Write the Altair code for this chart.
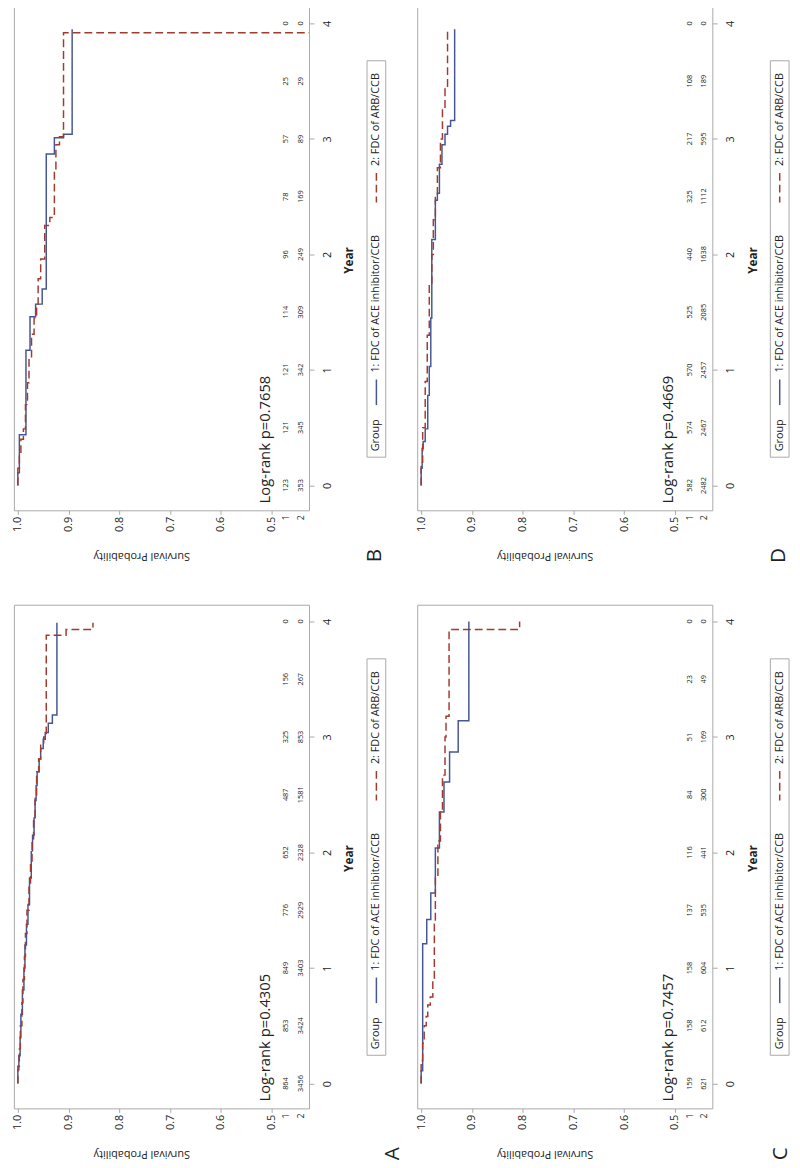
import altair as alt
import pandas as pd

BLUE = "#445694"
RED = "#A23A2E"
FRAME = "#a8a8a8"
INK = "#222222"
FONT = "Open Sans"

group_names = ["1: FDC of ACE inhibitor/CCB", "2: FDC of ARB/CCB"]
risk_times = [0, 0.5, 1, 1.5, 2, 2.5, 3, 3.5, 4]
surv_ticks = [0.5, 0.6, 0.7, 0.8, 0.9, 1.0]
year_ticks = [0, 1, 2, 3, 4]

# ---------------- Panel A ----------------
a_g1_t = [0, 0.12, 0.24, 0.4, 0.6, 0.81, 1.0, 1.2, 1.38, 1.55, 1.78, 2.01, 2.15, 2.30, 2.45, 2.58, 2.70, 2.81, 2.90, 2.98, 3.04, 3.12, 3.19]
a_g1_s = [1.0, 0.998, 0.9955, 0.994, 0.991, 0.988, 0.986, 0.983, 0.980, 0.977, 0.9735, 0.971, 0.968, 0.966, 0.964, 0.962, 0.958, 0.955, 0.950, 0.946, 0.940, 0.932, 0.923]
a_g1_end = 3.99
a_g2_t = [0, 0.15, 0.3, 0.5, 0.7, 0.9, 1.1, 1.3, 1.5, 1.7, 1.9, 2.1, 2.3, 2.5, 2.7, 2.81, 2.95, 3.0, 3.88, 3.93]
a_g2_s = [1.0, 0.997, 0.995, 0.992, 0.990, 0.987, 0.985, 0.982, 0.978, 0.975, 0.972, 0.969, 0.966, 0.963, 0.959, 0.955, 0.949, 0.944, 0.905, 0.852]
a_g2_end = 3.99
a_risk1 = [864, 853, 849, 776, 652, 487, 325, 156, 0]
a_risk2 = [3456, 3424, 3403, 2929, 2328, 1581, 853, 267, 0]
a_p = "Log-rank p=0.4305"

# ---------------- Panel B ----------------
b_g1_t = [0, 0.11, 0.44, 1.17, 1.46, 1.57, 1.70, 2.87, 3.01, 3.04]
b_g1_s = [1.0, 0.997, 0.984, 0.976, 0.965, 0.952, 0.944, 0.928, 0.910, 0.893]
b_g1_end = 3.95
b_g2_t = [0, 0.15, 0.27, 0.4, 0.49, 0.7, 0.89, 1.1, 1.31, 1.45, 1.57, 1.79, 1.96, 2.25, 2.32, 2.73, 2.95, 3.02, 3.92]
b_g2_s = [1.0, 0.997, 0.994, 0.989, 0.985, 0.981, 0.978, 0.973, 0.968, 0.963, 0.960, 0.955, 0.947, 0.937, 0.928, 0.925, 0.918, 0.910, 0.0]
b_g2_end = None
b_risk1 = [123, 121, 121, 114, 96, 78, 57, 25, 0]
b_risk2 = [353, 345, 342, 309, 249, 169, 89, 29, 0]
b_p = "Log-rank p=0.7658"

# ---------------- Panel C ----------------
c_g1_t = [0, 0.11, 1.21, 1.42, 1.65, 2.04, 2.35, 2.61, 2.87, 3.14]
c_g1_s = [1.0, 0.997, 0.989, 0.981, 0.972, 0.964, 0.955, 0.944, 0.927, 0.906]
c_g1_end = 4.0
c_g2_t = [0, 0.2, 0.35, 0.5, 0.58, 0.68, 0.75, 0.9, 1.38, 1.78, 2.1, 2.35, 2.67, 3.0, 3.18, 3.93]
c_g2_s = [1.0, 0.997, 0.994, 0.990, 0.987, 0.982, 0.977, 0.974, 0.972, 0.967, 0.962, 0.958, 0.953, 0.951, 0.945, 0.806]
c_g2_end = 4.0
c_risk1 = [159, 158, 158, 137, 116, 84, 51, 23, 0]
c_risk2 = [621, 612, 604, 535, 441, 300, 169, 49, 0]
c_p = "Log-rank p=0.7457"

# ---------------- Panel D ----------------
d_g1_t = [0, 0.15, 0.32, 0.38, 0.49, 0.78, 1.03, 1.45, 2.13, 2.47, 2.53, 2.78, 2.95, 3.04, 3.11, 3.16]
d_g1_s = [1.0, 0.998, 0.996, 0.992, 0.987, 0.984, 0.981, 0.979, 0.972, 0.968, 0.964, 0.959, 0.953, 0.948, 0.942, 0.934]
d_g1_end = 3.95
d_g2_t = [0, 0.2, 0.5, 0.9, 1.3, 1.74, 2.0, 2.3, 2.5, 2.75, 3.0, 3.25, 3.44]
d_g2_s = [1.0, 0.997, 0.992, 0.988, 0.984, 0.979, 0.976, 0.972, 0.968, 0.962, 0.958, 0.953, 0.948]
d_g2_end = 3.95
d_risk1 = [582, 574, 570, 525, 440, 325, 217, 108, 0]
d_risk2 = [2482, 2467, 2457, 2085, 1638, 1112, 595, 189, 0]
d_p = "Log-rank p=0.4669"

W = 300
H = 512
X_DOMAIN = [0.42636, 1.00775]
Y_DOMAIN = [-0.215, 4.145]


def step_rows(times, surv, end_t, group):
    rows = []
    prev = surv[0]
    for t, s in zip(times, surv):
        rows.append((t, prev))
        rows.append((t, s))
        prev = s
    if end_t is not None:
        rows.append((end_t, prev))
    return [{"t": t, "s": s, "g": group, "i": k} for k, (t, s) in enumerate(rows)]


xscale = alt.Scale(domain=X_DOMAIN, reverse=True, nice=False, zero=False)
yscale = alt.Scale(domain=Y_DOMAIN, nice=False, zero=False)
xaxis = alt.Axis(values=surv_ticks, format=".1f", title=None, domain=False, grid=False,
                 tickSize=4, tickColor=FRAME, labelAngle=270, labelAlign="right",
                 labelBaseline="middle", labelPadding=2, labelFontSize=11, labelFont=FONT,
                 labelColor=INK, labelOverlap=False)
yaxis = alt.Axis(orient="right", values=year_ticks, format="d", title=None, domain=False, grid=False,
                 tickSize=5, tickColor=FRAME, labelAngle=270, labelAlign="center",
                 labelBaseline="top", labelPadding=8, labelFontSize=11, labelFont=FONT,
                 labelColor=INK, labelOverlap=False)


def one(text):
    return pd.DataFrame({"v": [text]})


def label(text, x, y, size=11, align="left", angle=270, weight="normal", baseline="middle"):
    return alt.Chart(one(text)).mark_text(
        angle=angle, fontSize=size, align=align, baseline=baseline, font=FONT,
        fontWeight=weight, color=INK
    ).encode(x=alt.value(x), y=alt.value(y), text="v:N")


def panel(g1_t, g1_s, g1_end, g2_t, g2_s, g2_end, risk1, risk2, ptext, letter, letter_x):
    rows = step_rows(g1_t, g1_s, g1_end, group_names[0]) + step_rows(g2_t, g2_s, g2_end, group_names[1])
    curves = alt.Chart(pd.DataFrame(rows)).mark_line(clip=True, strokeWidth=1.5).encode(
        x=alt.X("s:Q", scale=xscale, axis=xaxis),
        y=alt.Y("t:Q", scale=yscale, axis=yaxis),
        order=alt.Order("i:Q"),
        color=alt.Color("g:N", scale=alt.Scale(domain=group_names, range=[BLUE, RED]), legend=None),
        strokeDash=alt.StrokeDash("g:N", scale=alt.Scale(domain=group_names, range=[[1, 0], [8, 4]]), legend=None),
    )
    risk_df = pd.DataFrame({"t": risk_times, "n1": [str(v) for v in risk1], "n2": [str(v) for v in risk2]})
    r1 = alt.Chart(risk_df).mark_text(angle=270, fontSize=7.5, font=FONT, color=INK, align="center", baseline="middle").encode(
        x=alt.value(277), y=alt.Y("t:Q", scale=yscale, axis=yaxis), text="n1:N")
    r2 = alt.Chart(risk_df).mark_text(angle=270, fontSize=7.5, font=FONT, color=INK, align="center", baseline="middle").encode(
        x=alt.value(292), y=alt.Y("t:Q", scale=yscale, axis=yaxis), text="n2:N")

    box = alt.Chart(one("box")).mark_rect(fill="white", stroke=FRAME, strokeWidth=1).encode(
        x=alt.value(359), x2=alt.value(378), y=alt.value(55), y2=alt.value(458))
    blue_sample = alt.Chart(one("b")).mark_rule(color=BLUE, strokeWidth=1.5).encode(
        x=alt.value(368.5), y=alt.value(379), y2=alt.value(405))
    red_sample = alt.Chart(one("r")).mark_rule(color=RED, strokeWidth=1.5, strokeDash=[8, 4]).encode(
        x=alt.value(368.5), y=alt.value(169), y2=alt.value(199))

    layers = [
        curves, r1, r2,
        label("1", 277, H + 5, size=9, align="right"),
        label("2", 292, H + 5, size=9, align="right"),
        label(ptext, 255, 505, size=15),
        label("Year", 341, H / 2 + 2, size=12, align="center", weight="bold"),
        label("Survival Probability", 130, 558, size=11, align="center", angle=180),
        box, blue_sample, red_sample,
        label("Group", 368.5, 452, size=11),
        label(group_names[0], 368.5, 372, size=11),
        label(group_names[1], 368.5, 162, size=11),
        label(letter, letter_x, 558, size=21, align="center"),
    ]
    return alt.layer(*layers).properties(width=W, height=H)


pB = panel(b_g1_t, b_g1_s, b_g1_end, b_g2_t, b_g2_s, b_g2_end, b_risk1, b_risk2, b_p, "B", 367)
pD = panel(d_g1_t, d_g1_s, d_g1_end, d_g2_t, d_g2_s, d_g2_end, d_risk1, d_risk2, d_p, "D", 368)
pA = panel(a_g1_t, a_g1_s, a_g1_end, a_g2_t, a_g2_s, a_g2_end, a_risk1, a_risk2, a_p, "A", 385)
pC = panel(c_g1_t, c_g1_s, c_g1_end, c_g2_t, c_g2_s, c_g2_end, c_risk1, c_risk2, c_p, "C", 370)

chart = alt.concat(
    pB, pD, pA, pC, columns=2, spacing={"row": 96, "column": 110}, bounds="flush"
).properties(
    padding={"left": 3, "top": -12, "right": 0, "bottom": 0}
).configure_view(stroke=FRAME, strokeWidth=1)

chart.save("out.html", embed_options={"renderer": "svg", "actions": False})
